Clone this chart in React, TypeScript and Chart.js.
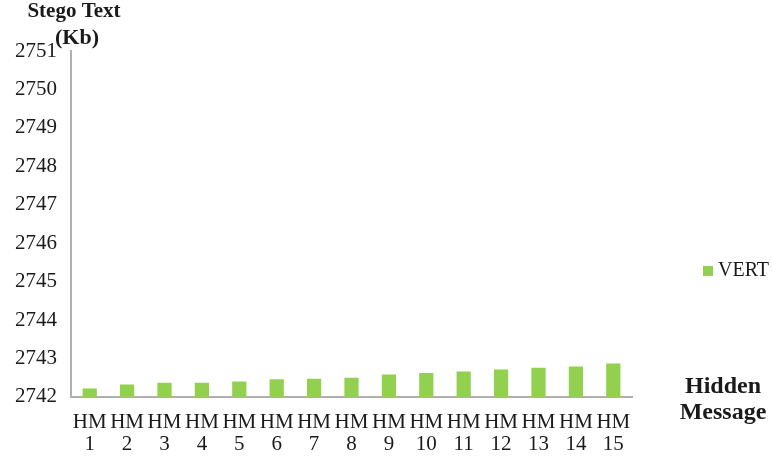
import React, { useEffect, useRef } from "react";
import { Chart, registerables } from "chart.js";

Chart.register(...registerables);

const categories: string[][] = [
  ["HM", "1"], ["HM", "2"], ["HM", "3"], ["HM", "4"], ["HM", "5"],
  ["HM", "6"], ["HM", "7"], ["HM", "8"], ["HM", "9"], ["HM", "10"],
  ["HM", "11"], ["HM", "12"], ["HM", "13"], ["HM", "14"], ["HM", "15"],
];
const seriesName = "VERT";
const vertValues: number[] = [
  2742.22, 2742.32, 2742.37, 2742.37, 2742.4, 2742.46, 2742.47, 2742.5,
  2742.58, 2742.62, 2742.66, 2742.71, 2742.76, 2742.79, 2742.87,
];
const yMin = 2742;
const yMax = 2751;
const yStep = 1;
const yTitleLines = ["Stego Text", "(Kb)"];
const xTitleLines = ["Hidden", "Message"];

const SERIF = "'Liberation Serif', 'Times New Roman', serif";
const BAR_COLOR = "#92D050";
const TEXT_COLOR = "#1a1a1a";
const AXIS_COLOR = "#b0b0b0";

const overlayPlugin = {
  id: "overlayText",
  afterDraw(chart: any) {
    const ctx = chart.ctx;
    const area = chart.chartArea;
    ctx.save();
    ctx.fillStyle = TEXT_COLOR;
    // Y axis title (top-left)
    ctx.textAlign = "center";
    ctx.textBaseline = "middle";
    ctx.font = `bold 21px ${SERIF}`;
    ctx.fillText(yTitleLines[0], 74, 12);
    ctx.font = `bold 22px ${SERIF}`;
    ctx.fillText(yTitleLines[1], 77, 38);
    // X axis title (bottom-right)
    ctx.font = `bold 24px ${SERIF}`;
    ctx.textBaseline = "alphabetic";
    ctx.fillText(xTitleLines[0], 723, 393);
    ctx.fillText(xTitleLines[1], 723, 419);
    // Legend
    const ds = chart.data.datasets[0];
    const midY = (area.top + area.bottom) / 2 + 47;
    ctx.fillStyle = ds.backgroundColor;
    ctx.fillRect(703, midY - 5, 10, 10);
    ctx.fillStyle = TEXT_COLOR;
    ctx.font = `20px ${SERIF}`;
    ctx.textAlign = "left";
    ctx.textBaseline = "middle";
    ctx.fillText(ds.label, 718, midY);
    ctx.restore();
  },
};

export default function App() {
  const canvasRef = useRef<HTMLCanvasElement | null>(null);

  useEffect(() => {
    if (!canvasRef.current) return;
    const chart = new Chart(canvasRef.current, {
      type: "bar",
      data: {
        labels: categories,
        datasets: [
          {
            label: seriesName,
            data: vertValues,
            backgroundColor: BAR_COLOR,
            borderWidth: 0,
            barPercentage: 0.38,
            categoryPercentage: 1,
          },
        ],
      },
      options: {
        responsive: false,
        animation: false,
        layout: { padding: { left: 1, top: 51, right: 140, bottom: -12 } },
        plugins: {
          legend: { display: false },
          tooltip: { enabled: false },
          title: { display: false },
        },
        scales: {
          x: {
            grid: { display: false, drawTicks: false },
            border: { display: true, color: AXIS_COLOR, width: 2 },
            ticks: {
              color: TEXT_COLOR,
              font: { family: SERIF, size: 21, lineHeight: 1.05 },
              padding: 15,
              maxRotation: 0,
              autoSkip: false,
            },
          },
          y: {
            min: yMin,
            max: yMax,
            grid: { display: false, drawTicks: false },
            border: { display: true, color: AXIS_COLOR, width: 2 },
            ticks: {
              stepSize: yStep,
              color: TEXT_COLOR,
              font: { family: SERIF, size: 21 },
              padding: 14,
              callback: (v: any) => String(v),
            },
          },
        },
      },
      plugins: [overlayPlugin],
    });
    return () => chart.destroy();
  }, []);

  return (
    <div style={{ position: "absolute", left: 0, top: 0, width: 772, height: 459, background: "#fff" }}>
      <canvas ref={canvasRef} width={772} height={459} style={{ display: "block" }} />
    </div>
  );
}
